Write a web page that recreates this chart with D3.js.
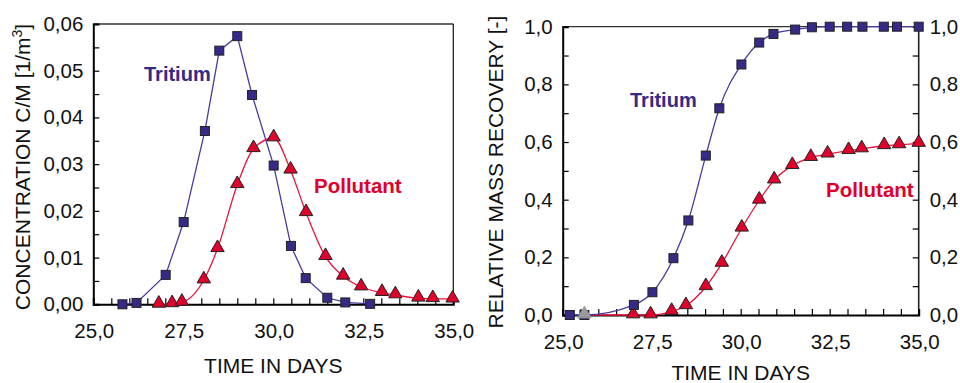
<!DOCTYPE html>
<html><head><meta charset="utf-8">
<script src="https://cdn.jsdelivr.net/npm/d3@7"></script>
<style>body{margin:0;background:#fff}svg{display:block}text{font-family:Arial,"Liberation Sans",sans-serif}</style>
</head><body><svg id="c" width="960" height="383"></svg>
<script>
// ---- data ----
const concTritiumDays = [25.81,26.2,27.01,27.51,28.1,28.5,29.0,29.41,30.01,30.49,30.9,31.5,32.0,32.69];
const concTritiumVals = [0.0,0.0003,0.0063,0.0176,0.0371,0.0543,0.0574,0.0448,0.0297,0.0125,0.0056,0.0014,0.0004,0.0001];
const concPollutantDays = [26.82,27.19,27.46,28.07,28.45,29.0,29.45,30.01,30.48,30.91,31.45,31.94,32.44,33.02,33.39,34.03,34.43,34.98];
const concPollutantVals = [0.0,0.0001,0.0004,0.0052,0.0119,0.0256,0.0333,0.0356,0.0287,0.0196,0.0102,0.006,0.0037,0.0025,0.002,0.0013,0.0012,0.0011];
const recTritiumDays = [25.2,25.61,27.0,27.52,28.11,28.53,29.02,29.4,30.02,30.52,30.92,31.53,32.0,32.5,32.99,33.42,34.02,34.39,35.0];
const recTritiumVals = [0.0,0.0,0.035,0.079,0.197,0.328,0.553,0.717,0.869,0.945,0.975,0.99,0.998,1.0,1.0,1.0,1.0,1.0,1.0];
const recPollutantDays = [25.61,26.98,27.47,28.06,28.46,29.02,29.47,30.03,30.52,30.94,31.45,31.97,32.44,33.03,33.4,34.03,34.45,35.0];
const recPollutantVals = [0.0,0.0,0.0,0.012,0.032,0.098,0.179,0.301,0.398,0.468,0.518,0.546,0.558,0.57,0.576,0.587,0.59,0.595];
const xTickLabels = ["25,0","27,5","30,0","32,5","35,0"];
const concTickLabels = ["0,00","0,01","0,02","0,03","0,04","0,05","0,06"];
const recTickLabels = ["0,0","0,2","0,4","0,6","0,8","1,0"];

const cTri = "#352a86", cTriLine = "#4b3b9e", cPol = "#e0002c", cPolLine = "#e8163c";
const svg = d3.select("#c");

function panel(o) {
  const g = svg.append("g");
  const x = d3.scaleLinear().domain([25, 35]).range([o.x0, o.x1]);
  const y = d3.scaleLinear().domain([0, o.ymax]).range([o.y1, o.y0]);
  g.append("line").attr("x1", o.x0).attr("x2", o.x1).attr("y1", o.y0).attr("y2", o.y0).attr("stroke", "#333").attr("stroke-width", 1.3);
  g.append("line").attr("x1", o.x1).attr("x2", o.x1).attr("y1", o.y0).attr("y2", o.y1).attr("stroke", "#222").attr("stroke-width", o.rightAxis ? 1.6 : 1.3);
  const xa = g.append("g").attr("transform", `translate(0,${o.y1})`)
    .call(d3.axisBottom(x).tickValues(d3.range(25, 35.01, 0.5)).tickSize(-6).tickFormat(""));
  xa.select(".domain").attr("stroke", "#000").attr("stroke-width", 2);
  xa.selectAll(".tick line").attr("stroke", "#000").attr("stroke-width", 1.2);
  g.selectAll(".xl").data(xTickLabels).join("text")
    .attr("x", d => x(+d.replace(",", ".")) + 1).attr("y", o.y1 + 34)
    .attr("text-anchor", "middle").attr("font-size", 20.5).attr("fill", "#111").text(d => d);
  const ya = g.append("g").attr("transform", `translate(${o.x0},0)`)
    .call(d3.axisLeft(y).tickValues(d3.range(0, o.ymax + 1e-9, o.minor)).tickSize(-6).tickFormat(""));
  ya.select(".domain").attr("stroke", "#000").attr("stroke-width", 2);
  ya.selectAll(".tick line").attr("stroke", "#000").attr("stroke-width", 1.2);
  g.selectAll(".yl").data(o.labels).join("text")
    .attr("x", o.x0 - 10).attr("y", d => y(+d.replace(",", ".")) + 7)
    .attr("text-anchor", "end").attr("font-size", 20.5).attr("fill", "#111").text(d => d);
  if (o.rightAxis) {
    const ra = g.append("g").attr("transform", `translate(${o.x1},0)`)
      .call(d3.axisRight(y).tickValues(d3.range(0, o.ymax + 1e-9, o.minor)).tickSize(-6).tickFormat(""));
    ra.select(".domain").remove();
    ra.selectAll(".tick line").attr("stroke", "#000").attr("stroke-width", 1.2);
    g.selectAll(".rl").data(o.labels).join("text")
      .attr("x", o.x1 + 11).attr("y", d => y(+d.replace(",", ".")) + 7)
      .attr("text-anchor", "start").attr("font-size", 20.5).attr("fill", "#111").text(d => d);
  }
  g.append("text").attr("x", (o.x0 + o.x1) / 2).attr("y", o.xTitleY).attr("text-anchor", "middle")
    .attr("font-size", 21).attr("fill", "#111").text("TIME IN DAYS");
  const yt = g.append("text").attr("transform", `translate(${o.yTitleX},${o.yTitleCY}) rotate(-90)`)
    .attr("text-anchor", "middle").attr("font-size", 21).attr("fill", "#111");
  o.yTitle(yt);
  const tLine = d3.line().x(d => x(d[0])).y(d => y(d[1])).curve(o.triCurve);
  const pLine = d3.line().x(d => x(d[0])).y(d => y(d[1])).curve(d3.curveMonotoneX);
  const tri = d3.zip(o.tDays, o.tVals), pol = d3.zip(o.pDays, o.pVals);
  g.append("path").attr("d", pLine(pol)).attr("fill", "none").attr("stroke", cPolLine).attr("stroke-width", 1.3);
  g.append("path").attr("d", tLine(tri)).attr("fill", "none").attr("stroke", cTriLine).attr("stroke-width", 1.3);
  const triSym = d3.symbol().type(d3.symbolTriangle).size(78);
  const isGray = i => o.grayFirst && i === 0;
  const polNormal = pol.filter((d, i) => !isGray(i)), polGray = pol.filter((d, i) => isGray(i));
  g.selectAll(".pm").data(polNormal).join("path").attr("d", triSym)
    .attr("transform", d => `translate(${x(d[0])},${y(d[1]) - 1})`)
    .attr("fill", cPol).attr("stroke", "#222").attr("stroke-width", 1);
  g.selectAll(".tm").data(tri).join("rect")
    .attr("x", d => x(d[0]) - 4.5).attr("y", d => y(d[1]) - 4.5).attr("width", 9).attr("height", 9)
    .attr("fill", cTri).attr("stroke", "#222").attr("stroke-width", 1);
  g.selectAll(".pg").data(polGray).join("path").attr("d", triSym)
    .attr("transform", d => `translate(${x(d[0])},${y(d[1]) - 1})`)
    .attr("fill", "#9a9a9a").attr("stroke", "#9a9a9a").attr("stroke-width", 1);
  g.append("text").attr("x", o.triLabel[0]).attr("y", o.triLabel[1]).attr("font-size", 20).attr("font-weight", "bold")
    .attr("fill", cTri).text("Tritium");
  g.append("text").attr("x", o.polLabel[0]).attr("y", o.polLabel[1]).attr("font-size", 20.5).attr("font-weight", "bold")
    .attr("fill", cPol).text("Pollutant");
}

panel({
  x0: 93.3, x1: 453.3, y0: 24, y1: 304.3, ymax: 0.06, minor: 0.005, labels: concTickLabels,
  rightAxis: false, xTitleY: 373, yTitleX: 30, yTitleCY: 167, triCurve: d3.curveLinear,
  yTitle: t => { t.append("tspan").text("CONCENTRATION C/M [1/m");
                 t.append("tspan").attr("font-size", 14).attr("dy", -8).text("3");
                 t.append("tspan").attr("dy", 8).text("]"); },
  tDays: concTritiumDays, tVals: concTritiumVals, pDays: concPollutantDays, pVals: concPollutantVals,
  triLabel: [144, 81], polLabel: [314, 193], grayFirst: false
});
panel({
  x0: 562.7, x1: 918.7, y0: 26.7, y1: 315, ymax: 1.0, minor: 0.1, labels: recTickLabels,
  rightAxis: true, xTitleY: 380, yTitleX: 503, yTitleCY: 172, triCurve: d3.curveMonotoneX,
  yTitle: t => t.text("RELATIVE MASS RECOVERY [-]"),
  tDays: recTritiumDays, tVals: recTritiumVals, pDays: recPollutantDays, pVals: recPollutantVals,
  triLabel: [630, 107], polLabel: [826, 197], grayFirst: true
});
</script></body></html>
